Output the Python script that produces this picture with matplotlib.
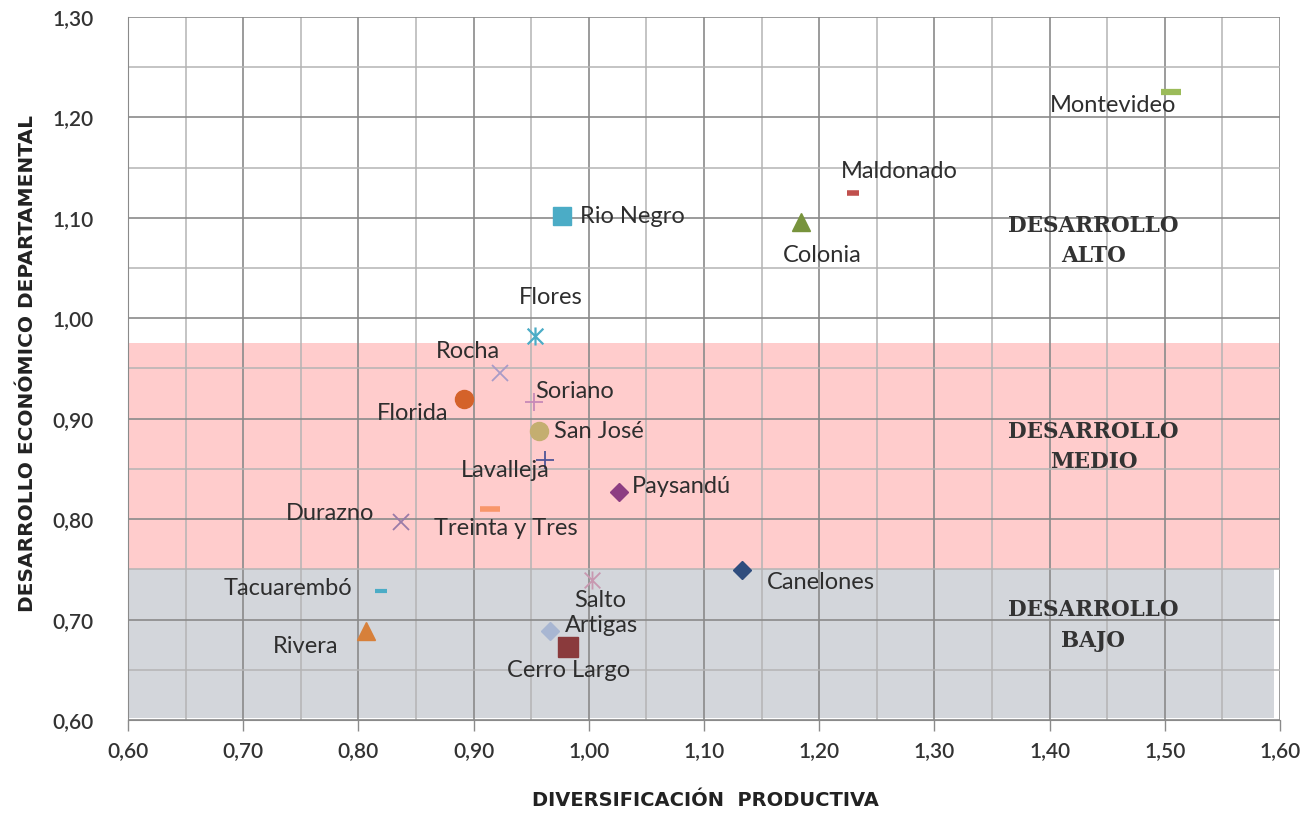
import matplotlib
matplotlib.use("Agg")
import matplotlib.pyplot as plt
from matplotlib.ticker import MultipleLocator, FuncFormatter
from matplotlib.path import Path

# ---- data ----
departments = ["Montevideo", "Maldonado", "Colonia", "Rio Negro", "Flores", "Rocha",
               "Florida", "Soriano", "San José", "Lavalleja", "Paysandú", "Treinta y Tres",
               "Durazno", "Canelones", "Salto", "Tacuarembó", "Rivera", "Artigas", "Cerro Largo"]
diversificacion = [1.505, 1.229, 1.184, 0.977, 0.953, 0.923, 0.892, 0.952, 0.957, 0.962,
                   1.026, 0.914, 0.837, 1.133, 1.003, 0.820, 0.807, 0.966, 0.982]
desarrollo = [1.225, 1.125, 1.096, 1.102, 0.982, 0.946, 0.920, 0.917, 0.888, 0.859,
              0.827, 0.810, 0.797, 0.749, 0.739, 0.728, 0.689, 0.689, 0.673]
zones = ["DESARROLLO\nALTO", "DESARROLLO\nMEDIO", "DESARROLLO\nBAJO"]
medio_band = (0.75, 0.975)
bajo_band = (0.602, 0.75)

# Excel-like "star" marker: an x with a vertical bar
star = Path([(-1, -1), (1, 1), (-1, 1), (1, -1), (0, -1.15), (0, 1.15)],
            [Path.MOVETO, Path.LINETO, Path.MOVETO, Path.LINETO, Path.MOVETO, Path.LINETO])

# ---- styles ----
styles = {
    "Montevideo":     dict(marker="_", ms=15, mew=4.5, color="#9BBB59"),
    "Maldonado":      dict(marker="_", ms=9, mew=4, color="#C0504D"),
    "Colonia":        dict(marker="^", ms=13, color="#77933C"),
    "Rio Negro":      dict(marker="s", ms=13, color="#4BACC6"),
    "Flores":         dict(marker=star, ms=13, mew=1.6, color="#4BACC6"),
    "Rocha":          dict(marker="x", ms=12, mew=1.3, color="#A99BC7"),
    "Florida":        dict(marker="o", ms=13, color="#D4622A"),
    "Soriano":        dict(marker="+", ms=13, mew=1.3, color="#C78AB8"),
    "San José":       dict(marker="o", ms=13, color="#C4AE70"),
    "Lavalleja":      dict(marker="+", ms=13, mew=1.3, color="#4F5596"),
    "Paysandú":       dict(marker="D", ms=9.5, color="#8D3D82"),
    "Treinta y Tres": dict(marker="_", ms=14, mew=4, color="#F8966A"),
    "Durazno":        dict(marker="x", ms=12, mew=1.3, color="#9A7BA8"),
    "Canelones":      dict(marker="D", ms=9.5, color="#2F4D7E"),
    "Salto":          dict(marker=star, ms=13, mew=1.3, color="#C898B0"),
    "Tacuarembó":     dict(marker="_", ms=8, mew=3, color="#4BACC6"),
    "Rivera":         dict(marker="^", ms=13, color="#D7803A"),
    "Artigas":        dict(marker="D", ms=9.5, color="#A8B6D2"),
    "Cerro Largo":    dict(marker="s", ms=14, color="#8A3A3C"),
}
# label offsets in pixels (dx, dy) and horizontal alignment
label_pos = {
    "Montevideo": (-57, -13, "center"), "Maldonado": (47, 21, "center"),
    "Colonia": (21, -34, "center"), "Rio Negro": (18, -1, "left"),
    "Flores": (16, 39, "center"), "Rocha": (-32, 21, "center"),
    "Florida": (-52, -15, "center"), "Soriano": (2, 10, "left"),
    "San José": (15, -1, "left"), "Lavalleja": (-40, -11, "center"),
    "Paysandú": (13, 6, "left"), "Treinta y Tres": (16, -19, "center"),
    "Durazno": (-71, 9, "center"), "Canelones": (25, -12, "left"),
    "Salto": (8, -20, "center"), "Tacuarembó": (-94, 3, "center"),
    "Rivera": (-61, -16, "center"), "Artigas": (52, 5, "center"),
    "Cerro Largo": (0, -24, "center"),
}

fig = plt.figure(figsize=(13.05, 8.13), dpi=100)
ax = fig.add_axes([128 / 1305, 1 - 720 / 813, (1280 - 128) / 1305, (720 - 17) / 813])

ax.set_xlim(0.6, 1.6)
ax.set_ylim(0.6, 1.3)

ax.axhspan(medio_band[0], medio_band[1], xmin=0, xmax=1, color="#FFCCCC", zorder=0, lw=0)
ax.axhspan(bajo_band[0], bajo_band[1], xmin=0, xmax=0.995, color="#D3D6DB", zorder=0, lw=0)

ax.xaxis.set_major_locator(MultipleLocator(0.1))
ax.xaxis.set_minor_locator(MultipleLocator(0.05))
ax.yaxis.set_major_locator(MultipleLocator(0.1))
ax.yaxis.set_minor_locator(MultipleLocator(0.05))
ax.set_axisbelow(True)
ax.grid(which="major", color="#8a8a8a", lw=1.2)
ax.grid(which="minor", color="#b4b4b4", lw=1.1)

fmt = FuncFormatter(lambda v, p: f"{v:.2f}".replace(".", ","))
ax.xaxis.set_major_formatter(fmt)
ax.yaxis.set_major_formatter(fmt)
ax.tick_params(axis="x", which="major", length=8, width=1, color="#8a8a8a",
               labelsize=15, labelcolor="#333333", pad=7)
ax.tick_params(axis="x", which="minor", length=0)
ax.tick_params(axis="y", which="both", length=0, labelsize=15, labelcolor="#333333", pad=25)
for lab in ax.get_xticklabels() + ax.get_yticklabels():
    lab.set_family("Lato")
    lab.set_fontweight("semibold")
for s in ["top", "right"]:
    ax.spines[s].set_visible(False)
for s in ["left", "bottom"]:
    ax.spines[s].set_color("#8a8a8a")

for name, x, y in zip(departments, diversificacion, desarrollo):
    st = dict(styles[name])
    col = st.pop("color")
    ax.plot([x], [y], linestyle="none", color=col, mec=col, mfc=col, zorder=3, **st)
    dx, dy, ha = label_pos[name]
    ax.annotate(name, (x, y), xytext=(dx, dy), textcoords="offset pixels",
                ha=ha, va="center", fontsize=17, color="#2e2e2e", family="Lato", zorder=4)

zone_y = [1.077, 0.872, 0.694]
for txt, yy in zip(zones, zone_y):
    ax.text(1.438, yy, txt, ha="center", va="center", fontsize=15.5, fontweight="bold",
            family="DejaVu Serif", color="#333333", linespacing=1.5)

ax.set_xlabel("DIVERSIFICACIÓN  PRODUCTIVA", fontsize=14, fontweight="bold",
              color="#222222")
ax.xaxis.set_label_coords(0.501, -(800 - 720) / 703, transform=ax.transAxes)
ax.xaxis.label.set_va("center")
ax.set_ylabel("DESARROLLO ECONÓMICO DEPARTAMENTAL", fontsize=14.5, fontweight="bold",
              color="#222222")
ax.yaxis.set_label_coords(-(128 - 28) / 1152, (720 - 364) / 703, transform=ax.transAxes)
ax.yaxis.label.set_va("center")

fig.savefig("out.png", dpi=100)
